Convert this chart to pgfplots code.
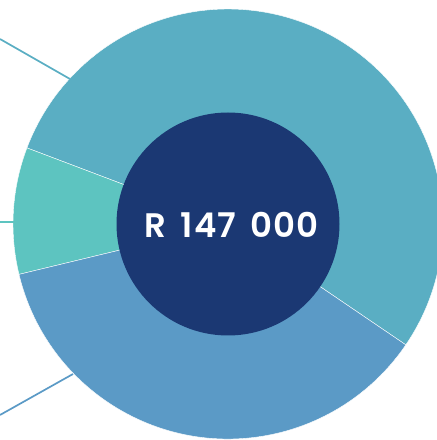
\documentclass[border=0pt]{standalone}
\usepackage{fontspec}
\setmainfont{Poppins}
\newfontfamily\labelfont{Poppins SemiBold}[LetterSpace=3.0, WordSpace=1.6]
\usepackage{pgfplots}
\pgfplotsset{compat=1.18}
\usepackage{pgfplotstable}
\definecolor{segA}{HTML}{5AAEC3}
\definecolor{segB}{HTML}{5DC4C0}
\definecolor{segC}{HTML}{5B9AC6}
\definecolor{hole}{HTML}{1B3873}
% values of the three segments in thousands of rand (total R 147 000)
\pgfplotstableread{
name valuek
A 79
B 14
C 54
}\donutdata
\pgfplotstablegetelem{0}{valuek}\of\donutdata \edef\vA{\pgfplotsretval}
\pgfplotstablegetelem{1}{valuek}\of\donutdata \edef\vB{\pgfplotsretval}
\pgfplotstablegetelem{2}{valuek}\of\donutdata \edef\vC{\pgfplotsretval}
\pgfmathsetmacro{\tot}{\vA+\vB+\vC}
\pgfmathsetmacro{\unitang}{360/\tot}
\pgfmathsetmacro{\aS}{-34.2}
\pgfmathsetmacro{\aA}{\aS+\unitang*\vA}
\pgfmathsetmacro{\aB}{\aA+\unitang*\vB}
\pgfmathsetmacro{\aC}{\aB+\unitang*\vC}
\begin{document}
\begin{tikzpicture}
\begin{axis}[
  x=1pt, y=1pt,
  xmin=0, xmax=437, ymin=0, ymax=440,
  hide axis, clip=true,
]
\def\cx{228}\def\cy{216}
\fill[segA, draw=white, line width=0.4pt] (axis cs:\cx,\cy) -- +(\aS:215pt) arc[start angle=\aS, end angle=\aA, radius=215pt] -- cycle;
\fill[segB, draw=white, line width=0.4pt] (axis cs:\cx,\cy) -- +(\aA:215pt) arc[start angle=\aA, end angle=\aB, radius=215pt] -- cycle;
\fill[segC, draw=white, line width=0.4pt] (axis cs:\cx,\cy) -- +(\aB:215pt) arc[start angle=\aB, end angle=\aC, radius=215pt] -- cycle;
\fill[hole] (axis cs:\cx,\cy) circle[radius=111.5pt];
\draw[segA, line width=1.7pt] (axis cs:0,401) -- (axis cs:70,361);
\draw[segB, line width=1.7pt] (axis cs:0,218) -- (axis cs:14,218);
\draw[segC, line width=1.7pt] (axis cs:0,25) -- (axis cs:73,66);
\node[white, font=\labelfont\fontsize{34}{40}\selectfont, inner sep=0pt] at (axis cs:231.5,215) {R 147 000};
\end{axis}
\pgfresetboundingbox
\path (current axis.south west) rectangle (current axis.north east);
\end{tikzpicture}
\end{document}
